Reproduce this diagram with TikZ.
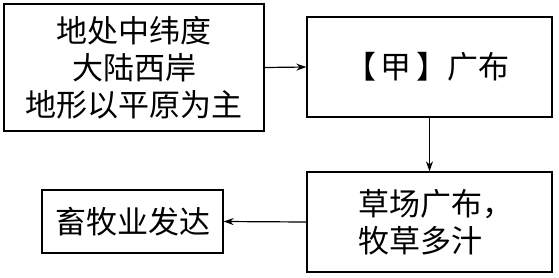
\documentclass[tikz,border=0pt]{standalone}
\usepackage{fontspec}
\newfontfamily\cjk{Noto Sans CJK SC}
\usetikzlibrary{arrows.meta}
\begin{document}
\begin{tikzpicture}[x=1pt,y=-1pt,
  box/.style={draw, line width=1.3pt, inner sep=0pt, font=\cjk\fontsize{31}{37}\selectfont},
  arr/.style={line width=1.2pt, -{Stealth[length=10pt,width=7pt]}}]
\useasboundingbox (0,0) rectangle (559,277);
\node[box, minimum width=260pt, minimum height=127pt, align=center] (a) at (134,67.5) {地处中纬度\\大陆西岸\\地形以平原为主};
\node[box, minimum width=245pt, minimum height=100pt] (b) at (429.5,67) {};
\node[font=\cjk\fontsize{31}{37}\selectfont, inner sep=0pt, xshift=-2pt] (bt) at (b) {【\hspace{5pt}甲\hspace{5pt}】广布};
\node[box, minimum width=245pt, minimum height=100pt] (c) at (429.5,222) {};
\node[font=\cjk\fontsize{31}{37}\selectfont, align=left, inner sep=0pt, xshift=6pt] (ct) at (c) {草场广布，\\牧草多汁};
\node[box, minimum width=181pt, minimum height=63pt] (d) at (132.5,221.5) {畜牧业发达};
\draw[arr] (a.east) -- (b.west);
\draw[arr] (b.south) -- (c.north);
\draw[arr] (c.west) -- (d.east);
\end{tikzpicture}
\end{document}
